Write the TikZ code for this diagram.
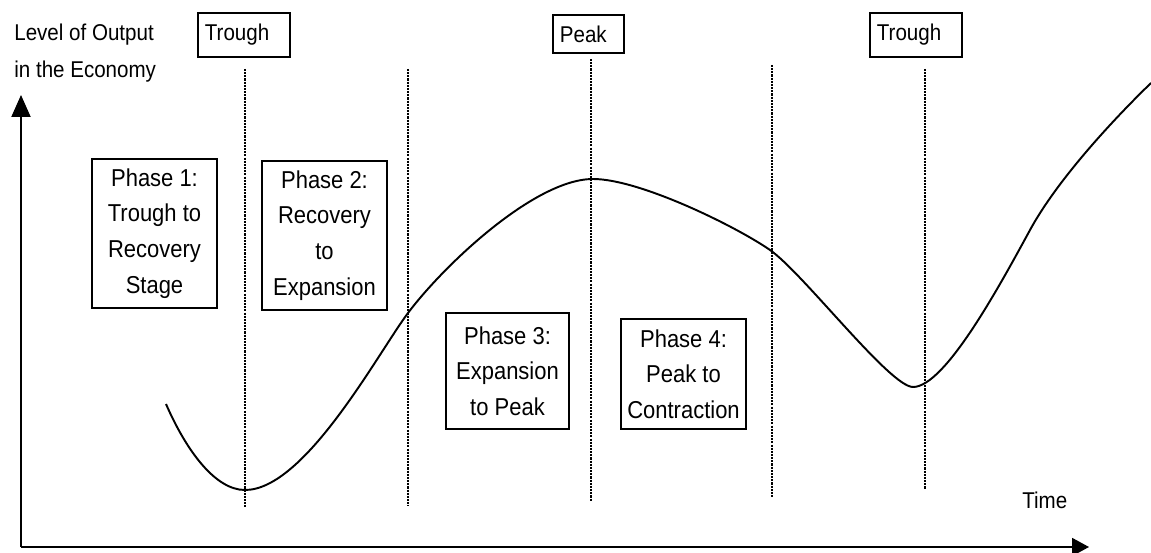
\documentclass[tikz,border=0pt]{standalone}
\usepackage{fontspec}
\setmainfont{Liberation Sans}[FakeStretch=0.9]
\usepackage{tikz}
\usetikzlibrary{arrows.meta}
\newcommand{\phasefont}{\fontsize{13.9}{20.3}\selectfont}
\newcommand{\tagfont}{\fontsize{13}{21}\selectfont}

\begin{document}
\begin{tikzpicture}[x=0.02cm,y=-0.02cm,
  phasebox/.style={draw,line width=1pt,align=center,inner sep=0pt,font=\phasefont,minimum width=2.5cm},
  tagbox/.style={draw,line width=1pt,anchor=north west,align=left,inner xsep=0.14cm,inner ysep=0pt,minimum height=0.88cm,font=\tagfont},
  phaseline/.style={line width=0.6pt,dash pattern=on 1.2pt off 0.6pt}]
  \useasboundingbox (0,0) rectangle (1151,553);

  % axes
  \coordinate (origin) at (21,547);
  \coordinate (ytop) at (21,95);
  \coordinate (xend) at (1089,547);
  \draw[line width=1.1pt,-{Triangle[length=0.44cm,width=0.38cm]}] (origin) -- (ytop);
  \draw[line width=1.1pt,-{Triangle[length=0.34cm,width=0.36cm]}] (origin) -- (xend);
  \node[anchor=north west,align=left,inner sep=0pt,font=\tagfont] (ylabel) at (14,24) {Level of Output\\in the Economy};
  \node[anchor=base west,inner sep=0pt,font=\tagfont] (xlabel) at (1022,508) {Time};

  % phase borders
  \foreach \x/\a/\b in {245/69/507,408/69/506,591/59/501,772/65/498,925/69/489}
    \draw[phaseline] (\x,\a) -- (\x,\b);

  \node[tagbox,text width=1.56cm] (trough1) at (197,12) {Trough};
  \node[tagbox,text width=1.14cm,minimum height=0.76cm] (peak) at (552,14) {Peak};
  \node[tagbox,text width=1.56cm] (trough2) at (869,12) {Trough};

  \node[phasebox,minimum height=2.98cm] (phase1) at (154.5,233.5) {Phase 1:\\Trough to\\Recovery\\Stage};
  \node[phasebox,minimum height=2.98cm] (phase2) at (324.5,235.5) {Phase 2:\\Recovery\\to\\Expansion};
  \node[phasebox,minimum width=2.46cm,minimum height=2.32cm] (phase3) at (507.5,371) {Phase 3:\\Expansion\\to Peak};
  \node[phasebox,minimum height=2.2cm] (phase4) at (683.5,374) {Phase 4:\\Peak to\\Contraction};

  % output curve
  \draw[line width=1.1pt] (166,404) .. controls (186,450) and (215,490) .. (245,490)
    .. controls (305,490) and (378,353) .. (408,313)
    .. controls (444,265) and (535,179) .. (593,179)
    .. controls (640,179) and (737,227) .. (770,250)
    .. controls (803,273) and (890,387) .. (913,387)
    .. controls (945,387) and (1000,285) .. (1030,230)
    .. controls (1060,175) and (1122,111) .. (1151,83);
\end{tikzpicture}
\end{document}
